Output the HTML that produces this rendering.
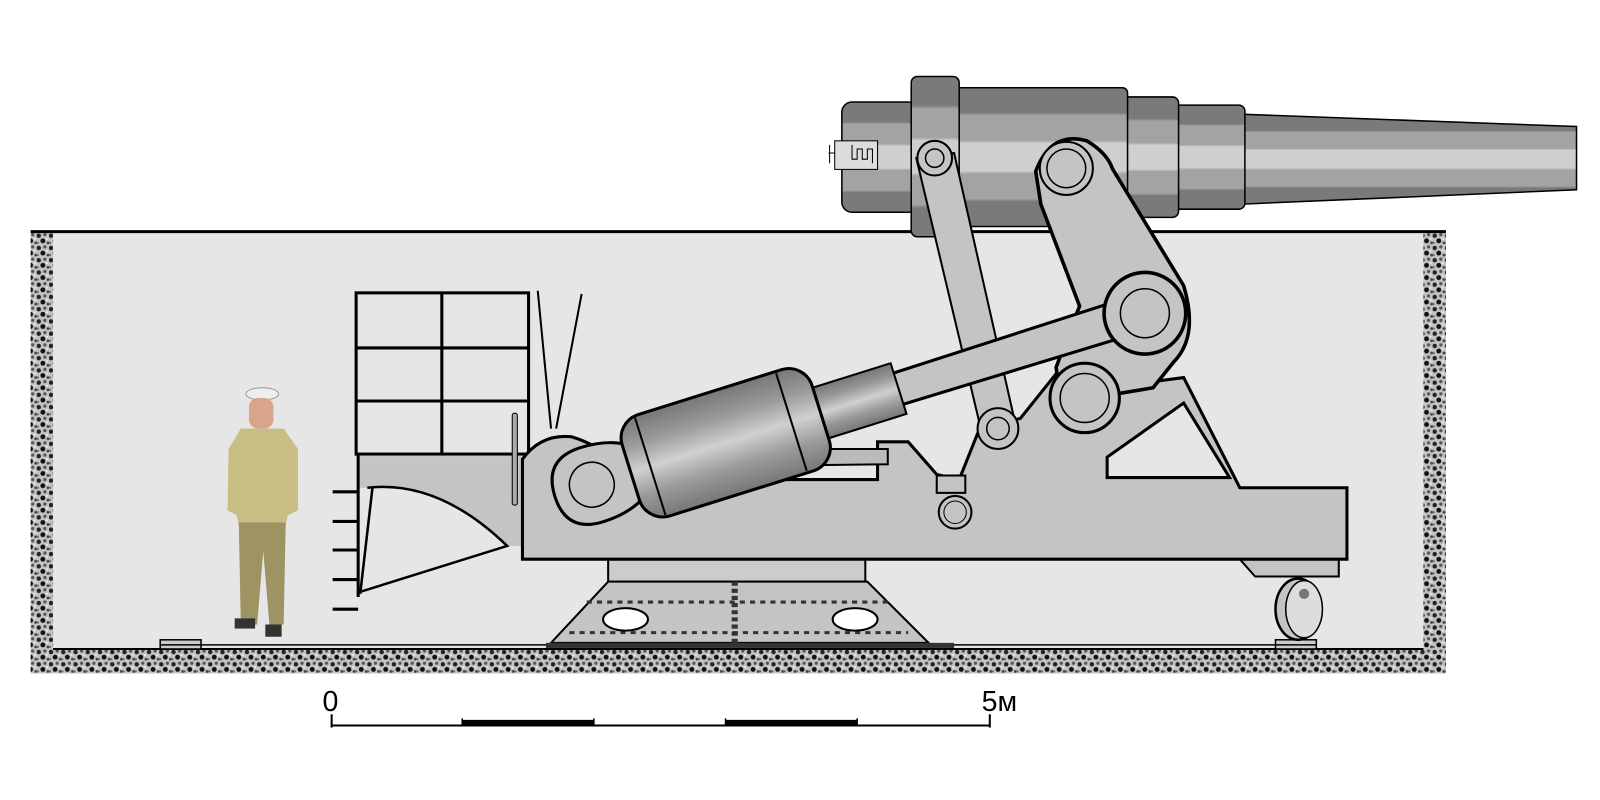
<!DOCTYPE html>
<html><head><meta charset="utf-8"><style>
html,body{margin:0;padding:0;background:#fff;width:1600px;height:800px;overflow:hidden}
</style></head><body>
<svg width="1600" height="800" viewBox="0 0 1568 784" preserveAspectRatio="none" xmlns="http://www.w3.org/2000/svg">
<defs>
<pattern id="grav" width="12" height="12" patternUnits="userSpaceOnUse">
<rect width="12" height="12" fill="#c4c4c4"/>
<circle cx="2" cy="3" r="2.2" fill="#222"/><circle cx="8" cy="2" r="1.6" fill="#555"/>
<circle cx="6" cy="8" r="2.4" fill="#111"/><circle cx="11" cy="10" r="1.4" fill="#444"/>
<circle cx="1" cy="10" r="1.1" fill="#666"/><circle cx="10" cy="6" r="1" fill="#eee"/>
</pattern>
<linearGradient id="barrel" x1="0" y1="0" x2="0" y2="1">
<stop offset="0" stop-color="#7a7a7a"/><stop offset="0.18" stop-color="#7a7a7a"/>
<stop offset="0.2" stop-color="#a3a3a3"/><stop offset="0.38" stop-color="#a3a3a3"/>
<stop offset="0.4" stop-color="#cfcfcf"/><stop offset="0.6" stop-color="#cfcfcf"/>
<stop offset="0.62" stop-color="#a3a3a3"/><stop offset="0.8" stop-color="#a3a3a3"/>
<stop offset="0.82" stop-color="#7a7a7a"/><stop offset="1" stop-color="#7a7a7a"/>
</linearGradient>
<linearGradient id="cyl" x1="0" y1="0" x2="0" y2="1">
<stop offset="0" stop-color="#777"/><stop offset="0.25" stop-color="#999"/>
<stop offset="0.5" stop-color="#d0d0d0"/><stop offset="0.75" stop-color="#999"/>
<stop offset="1" stop-color="#777"/></linearGradient>
</defs>

<!-- pit -->
<rect x="30" y="226" width="1387" height="434" fill="url(#grav)"/>
<rect x="52" y="228" width="1343" height="408" fill="#e6e6e6"/>
<line x1="30" y1="227" x2="1417" y2="227" stroke="#000" stroke-width="3"/>
<line x1="52" y1="636" x2="1395" y2="636" stroke="#000" stroke-width="2"/>
<rect x="157" y="627" width="40" height="9" fill="#ccc" stroke="#000" stroke-width="1.5"/>
<rect x="1250" y="627" width="40" height="9" fill="#ccc" stroke="#000" stroke-width="1.5"/>
<line x1="157" y1="632" x2="1290" y2="632" stroke="#000" stroke-width="1.5"/>

<!-- barrel -->
<g stroke="#000" stroke-width="1.5" fill="url(#barrel)">
<path d="M1218,112 L1545,124 L1545,186 L1218,200 Z"/>
<rect x="1150" y="103" width="70" height="102" rx="6"/>
<rect x="1100" y="95" width="55" height="118" rx="6"/>
<rect x="825" y="100" width="75" height="108" rx="10"/>
<rect x="935" y="86" width="170" height="136" rx="5"/>
<rect x="893" y="75" width="47" height="157" rx="6"/>
</g>
<rect x="818" y="138" width="42" height="28" fill="#ddd" stroke="#000" stroke-width="1"/>
<path d="M835,142 v14 h5 v-10 h5 v10 h5 v-10 h5 v14" fill="none" stroke="#000" stroke-width="1"/>
<line x1="812" y1="150" x2="818" y2="150" stroke="#000"/>
<line x1="813" y1="142" x2="813" y2="160" stroke="#000"/>

<!-- back grid structure -->
<g stroke="#000" stroke-width="3" fill="none">
<rect x="349" y="287" width="169" height="158"/>
<line x1="433" y1="287" x2="433" y2="445"/>
<line x1="349" y1="341" x2="518" y2="341"/>
<line x1="349" y1="393" x2="518" y2="393"/>
<line x1="527" y1="285" x2="540" y2="420" stroke-width="2"/>
<line x1="570" y1="288" x2="545" y2="420" stroke-width="2"/>
</g>
<path d="M351,447 L515,447 L515,535 L497,535 Q430,470 360,478 L351,478 Z" fill="#c4c4c4"/>
<path d="M360,478 Q430,470 497,535 L353,580" fill="none" stroke="#000" stroke-width="2.5"/>
<line x1="365" y1="478" x2="353" y2="582" stroke="#000" stroke-width="2.5"/>
<line x1="351" y1="445" x2="351" y2="585" stroke="#000" stroke-width="3"/>
<g stroke="#000" stroke-width="3">
<line x1="326" y1="482" x2="351" y2="482"/><line x1="326" y1="511" x2="351" y2="511"/>
<line x1="326" y1="539" x2="351" y2="539"/><line x1="326" y1="568" x2="351" y2="568"/>
<line x1="326" y1="597" x2="351" y2="597"/></g>
<rect x="502" y="405" width="5" height="90" rx="2" fill="#aaa" stroke="#000"/>

<!-- base pedestal -->
<rect x="596" y="548" width="252" height="22" fill="#ccc" stroke="#000" stroke-width="2"/>
<path d="M596,570 L850,570 L910,630 L540,630 Z" fill="#c4c4c4" stroke="#000" stroke-width="2"/>
<line x1="575" y1="590" x2="870" y2="590" stroke="#333" stroke-width="3" stroke-dasharray="5,5"/>
<line x1="558" y1="620" x2="890" y2="620" stroke="#333" stroke-width="3" stroke-dasharray="5,5"/>
<line x1="720" y1="570" x2="720" y2="630" stroke="#333" stroke-width="6" stroke-dasharray="4,3"/>
<ellipse cx="613" cy="607" rx="22" ry="11" fill="#fff" stroke="#000" stroke-width="2"/>
<ellipse cx="838" cy="607" rx="22" ry="11" fill="#fff" stroke="#000" stroke-width="2"/>
<rect x="535" y="630" width="400" height="5" fill="#333"/>

<!-- carriage -->
<path d="M1215,548 L1312,548 L1312,565 L1230,565 Z" fill="#c4c4c4" stroke="#000" stroke-width="2"/>
<ellipse cx="1272" cy="597" rx="22" ry="30" fill="#c4c4c4" stroke="#000" stroke-width="2.5"/>
<ellipse cx="1278" cy="597" rx="18" ry="28" fill="#ddd" stroke="#000" stroke-width="1.5"/>
<circle cx="1278" cy="582" r="5" fill="#777"/>
<path d="M1085,380 L1160,370 L1215,478 L1320,478 L1320,548 L512,548 L512,450 Q530,425 560,428 Q600,440 610,470 L860,470 L860,433 L890,433 L918,465 L940,470 L960,420 L1000,410 L1040,360 Z" fill="#c4c4c4" stroke="#000" stroke-width="3"/>
<path d="M1160,395 L1205,468 L1085,468 L1085,448 Z" fill="#e6e6e6" stroke="#000" stroke-width="3"/>
<rect x="918" y="466" width="28" height="17" fill="#c4c4c4" stroke="#000" stroke-width="2"/>
<circle cx="936" cy="502" r="16" fill="#c4c4c4" stroke="#000" stroke-width="2"/>
<circle cx="936" cy="502" r="11" fill="none" stroke="#000" stroke-width="1"/>
<path d="M610,440 L870,440 L870,455 L610,458 Z" fill="#bbb" stroke="#000" stroke-width="2"/>

<!-- link rod from barrel -->
<path d="M898,155 L960,415 L995,415 L935,150 Z" fill="#c4c4c4" stroke="#000" stroke-width="2"/>
<circle cx="916" cy="155" r="17" fill="#c4c4c4" stroke="#000" stroke-width="2"/>
<circle cx="916" cy="155" r="9" fill="none" stroke="#000" stroke-width="1.5"/>
<circle cx="978" cy="420" r="20" fill="#c4c4c4" stroke="#000" stroke-width="2"/>
<circle cx="978" cy="420" r="11" fill="none" stroke="#000" stroke-width="1.5"/>

<!-- main arm -->
<path d="M1015,168 Q1030,128 1065,138 Q1085,150 1090,165 L1160,280 Q1175,330 1150,355 L1130,380 L1040,395 L1035,360 Q1050,320 1058,300 L1020,200 Z" fill="#c4c4c4" stroke="#000" stroke-width="3.5"/>
<circle cx="1045" cy="165" r="26" fill="#c4c4c4" stroke="#000" stroke-width="2"/>
<circle cx="1045" cy="165" r="19" fill="none" stroke="#000" stroke-width="1.5"/>
<circle cx="1063" cy="390" r="34" fill="#c4c4c4" stroke="#000" stroke-width="3"/>
<circle cx="1063" cy="390" r="24" fill="none" stroke="#000" stroke-width="1.5"/>

<!-- cylinder + rod -->
<g transform="translate(580,475) rotate(-17.4)">
<path d="M0,-38 Q40,-38 60,-14 L560,-18 L560,18 L60,14 Q40,38 0,38 Q-38,38 -38,0 Q-38,-38 0,-38 Z" fill="#c4c4c4" stroke="#000" stroke-width="3"/>
<circle cx="0" cy="0" r="22" fill="none" stroke="#000" stroke-width="1.5"/>
<rect x="230" y="-26" width="85" height="52" fill="url(#cyl)" stroke="#000" stroke-width="2"/>
<rect x="40" y="-52" width="195" height="104" rx="24" fill="url(#cyl)" stroke="#000" stroke-width="3"/>
<line x1="60" y1="-50" x2="60" y2="50" stroke="#000" stroke-width="2"/>
<line x1="205" y1="-50" x2="205" y2="50" stroke="#000" stroke-width="2"/>
</g>
<circle cx="1122" cy="307" r="40" fill="#c4c4c4" stroke="#000" stroke-width="3.5"/>
<circle cx="1122" cy="307" r="24" fill="none" stroke="#000" stroke-width="1.5"/>

<!-- sailor -->
<ellipse cx="257" cy="386" rx="16" ry="6" fill="#eee" stroke="#999"/>
<rect x="244" y="390" width="24" height="30" rx="9" fill="#d9a58a"/>
<path d="M236,420 L278,420 L292,440 L292,500 L282,505 L280,515 L234,515 L232,505 L223,500 L224,440 Z" fill="#c8bd82"/>
<path d="M234,512 L280,512 L278,612 L264,612 L258,540 L252,612 L236,612 Z" fill="#9e9363"/>
<rect x="230" y="606" width="20" height="10" fill="#333"/><rect x="260" y="612" width="16" height="12" fill="#333"/>

<!-- scale -->
<g stroke="#000">
<line x1="325" y1="711" x2="970" y2="711" stroke-width="2"/>
<line x1="453" y1="708" x2="582" y2="708" stroke-width="5"/>
<line x1="711" y1="708" x2="840" y2="708" stroke-width="5"/>
<line x1="325" y1="700" x2="325" y2="713" stroke-width="2"/>
<line x1="970" y1="700" x2="970" y2="713" stroke-width="2"/>
<line x1="453" y1="704" x2="453" y2="711" stroke-width="1.5"/>
<line x1="582" y1="704" x2="582" y2="711" stroke-width="1.5"/>
<line x1="711" y1="704" x2="711" y2="711" stroke-width="1.5"/>
<line x1="840" y1="704" x2="840" y2="711" stroke-width="1.5"/>
</g>
<text x="316" y="697" font-family="Liberation Sans, sans-serif" font-size="28">0</text>
<text x="962" y="697" font-family="Liberation Sans, sans-serif" font-size="28">5м</text>
</svg>
</body></html>
